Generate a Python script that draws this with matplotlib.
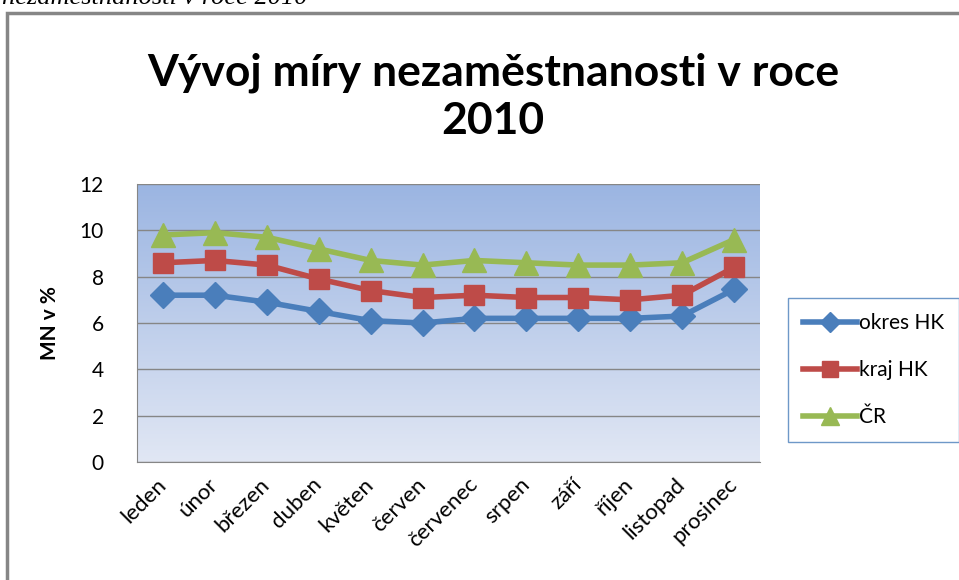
import matplotlib.pyplot as plt
import numpy as np
from matplotlib.patches import Rectangle
from matplotlib.colors import LinearSegmentedColormap

months = ['leden', 'únor', 'březen', 'duben', 'květen', 'červen',
          'červenec', 'srpen', 'září', 'říjen', 'listopad', 'prosinec']
okres_hk = [7.2, 7.2, 6.9, 6.5, 6.1, 6.0, 6.2, 6.2, 6.2, 6.2, 6.3, 7.45]
kraj_hk = [8.6, 8.7, 8.5, 7.9, 7.4, 7.1, 7.2, 7.1, 7.1, 7.0, 7.2, 8.4]
cr = [9.8, 9.9, 9.7, 9.2, 8.7, 8.5, 8.7, 8.6, 8.5, 8.5, 8.6, 9.6]

plt.rcParams['font.family'] = ['Lato', 'DejaVu Sans']

fig = plt.figure(figsize=(9.59, 5.8), dpi=100)
W, H = 959, 580
ax = fig.add_axes([137 / W, 1 - 462 / H, (760 - 137) / W, (462 - 184) / H])

# gradient background
grad = np.linspace(0, 1, 256).reshape(-1, 1)
cmap = LinearSegmentedColormap.from_list('bg', ['#e1e7f4', '#9bb5e2'])
ax.imshow(grad, cmap=cmap, aspect='auto', origin='lower',
          extent=[-0.5, 11.5, 0, 12], zorder=0)

x = np.arange(len(months))
ax.plot(x, okres_hk, color='#4a7ebb', lw=4, marker='D', ms=13, label='okres HK', zorder=3)
ax.plot(x, kraj_hk, color='#be4b48', lw=4, marker='s', ms=15, label='kraj HK', zorder=3)
ax.plot(x, cr, color='#98b954', lw=4, marker='^', ms=17, label='ČR', zorder=3)

ax.set_xlim(-0.5, 11.5)
ax.set_ylim(0, 12)
ax.set_yticks(range(0, 13, 2))
ax.yaxis.grid(True, color='#868686', lw=1)
ax.set_axisbelow(False)
for s in ['top', 'right']:
    ax.spines[s].set_visible(False)
ax.spines['left'].set_color('#868686')
ax.spines['bottom'].set_color('#868686')
ax.tick_params(length=0, labelsize=15)
ax.tick_params(axis='y', pad=24)
ax.tick_params(axis='x', pad=14)
ax.set_xticks(x)
ax.set_xticklabels(months, rotation=45, ha='right', va='center',
                   rotation_mode='anchor', fontsize=16)
ax.set_ylabel('MN v %', fontsize=15, fontweight='bold', labelpad=14)

leg = ax.legend(loc='center left', bbox_to_anchor=(778 / W, 1 - 370 / H),
                bbox_transform=fig.transFigure, frameon=True, fancybox=False,
                fontsize=15, handlelength=2.6, labelspacing=1.3,
                borderpad=0.7, handletextpad=0.1, markerscale=0.8)
leg.get_frame().set_edgecolor('#4a7ebb')
leg.get_frame().set_linewidth(1)

fig.text(493 / W, 1 - 97 / H, 'Vývoj míry nezaměstnanosti v roce\n2010',
         ha='center', va='center', fontsize=32, fontweight='bold', linespacing=1.25)

# outer chart border
fig.patches.append(Rectangle((7 / W, -0.01), 1.0, 1 - 13 / H + 0.01,
                             transform=fig.transFigure, fill=False,
                             edgecolor='#868686', lw=2.5))
fig.text(2 / W, 1 - 4 / H, 'nezaměstnanosti v roce 2010', fontsize=19, style='italic',
         family='Liberation Serif', va='baseline', ha='left')

fig.savefig('out.png', dpi=100)
